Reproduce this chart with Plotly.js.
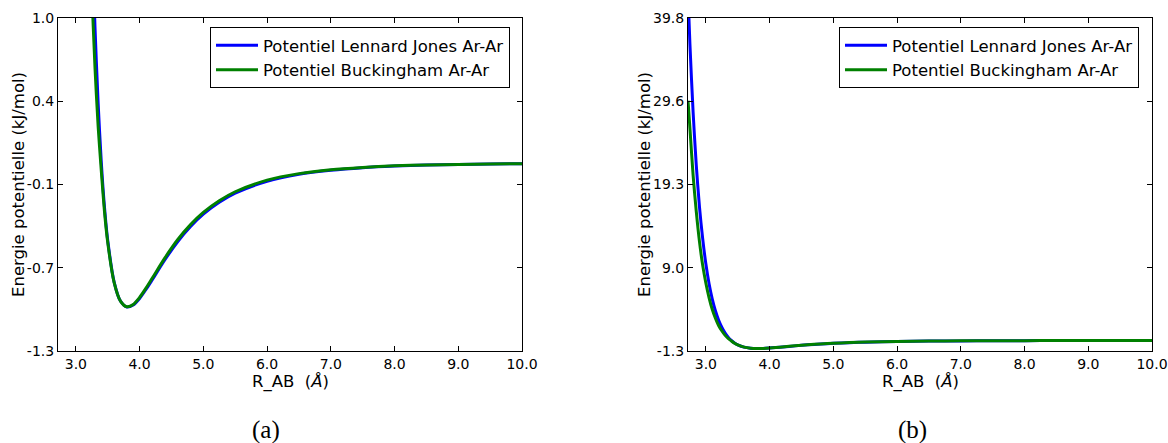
<!DOCTYPE html>
<html>
<head>
<meta charset="utf-8">
<script src="https://cdn.plot.ly/plotly-3.0.1.min.js"></script>
<style>html,body{margin:0;padding:0;background:#fff;}#chart{width:1168px;height:443px;}</style>
</head>
<body>
<div id="chart"></div>
<script>
// Distance R_AB (Å)
const rAB = [2.72, 2.75, 2.8, 2.85, 2.9, 2.95, 3.0, 3.05, 3.1, 3.15, 3.2, 3.25, 3.3, 3.35, 3.4, 3.45, 3.5, 3.6, 3.7, 3.8, 3.9, 4.0, 4.1, 4.2, 4.4, 4.6, 4.8, 5.0, 5.25, 5.5, 6.0, 6.5, 7.0, 7.5, 8.0, 8.5, 9.0, 9.5, 10.0];
// Lennard-Jones Ar-Ar (kJ/mol)
const ljValues = [42.8, 36.6, 28.2, 21.6, 16.5, 12.6, 9.46, 7.03, 5.14, 3.67, 2.52, 1.63, 0.94, 0.41, 0.0, -0.31, -0.535, -0.822, -0.955, -0.996, -0.982, -0.937, -0.875, -0.807, -0.668, -0.544, -0.440, -0.355, -0.273, -0.210, -0.128, -0.080, -0.052, -0.034, -0.023, -0.016, -0.012, -0.008, -0.006];
// Buckingham Ar-Ar (kJ/mol)
const buckValues = [29.6, 26.2, 20.4, 15.9, 12.2, 9.3, 7.1, 5.3, 3.85, 2.75, 1.85, 1.2, 0.66, 0.25, -0.06, -0.34, -0.55, -0.826, -0.955, -0.994, -0.978, -0.930, -0.866, -0.796, -0.655, -0.530, -0.427, -0.343, -0.262, -0.200, -0.120, -0.075, -0.048, -0.032, -0.021, -0.015, -0.011, -0.008, -0.006];

const seriesNames = ["Potentiel Lennard Jones Ar-Ar", "Potentiel Buckingham Ar-Ar"];
const xTickVals = [3, 4, 5, 6, 7, 8, 9, 10];
const xTickText = ["3.0", "4.0", "5.0", "6.0", "7.0", "8.0", "9.0", "10.0"];
const yRangeA = [-1.3, 1.0];
const yTickValsA = [-1.3, -0.725, -0.15, 0.425, 1.0];
const yTickTextA = ["-1.3", "-0.7", "-0.1", "0.4", "1.0"];
const yRangeB = [-1.3, 39.8];
const yTickValsB = [-1.3, 8.975, 19.25, 29.525, 39.8];
const yTickTextB = ["-1.3", "9.0", "19.3", "29.6", "39.8"];
const xTitle = "R_AB&nbsp; (<i>Å</i>)";
const yTitle = "Energie potentielle (kJ/mol)";
const panelLabels = ["(a)", "(b)"];

const W = 1168, H = 443;
const px = v => v / W;
const py = v => 1 - v / H;

const colors = ["#0000ff", "#008000"];
const traces = [];
[["x", "y", "legend"], ["x2", "y2", "legend2"]].forEach(([xa, ya, lg]) => {
  [ljValues, buckValues].forEach((vals, i) => {
    traces.push({
      type: "scatter", mode: "lines", x: rAB, y: vals,
      xaxis: xa, yaxis: ya, legend: lg, name: seriesNames[i],
      line: {color: colors[i], width: 3, shape: "spline", smoothing: 0.8},
      hoverinfo: "skip"
    });
  });
});

const tickFont = {family: "DejaVu Sans", size: 14, color: "#000"};
function xax(anchor, dom) {
  return {domain: dom, anchor: anchor, range: [2.72, 10], tickvals: xTickVals, ticktext: xTickText,
    ticks: "inside", ticklen: 5, tickwidth: 1, tickcolor: "#000", mirror: "ticks",
    showline: true, linecolor: "#000", linewidth: 1, showgrid: false, zeroline: false,
    tickfont: tickFont, automargin: false, fixedrange: true, ticklabeloverflow: "allow"};
}
function yax(anchor, range, tv, tt) {
  return {domain: [py(351), py(18)], anchor: anchor, range: range, tickvals: tv, ticktext: tt,
    ticks: "inside", ticklen: 5, tickwidth: 1, tickcolor: "#000", mirror: "ticks",
    showline: true, linecolor: "#000", linewidth: 1, showgrid: false, zeroline: false,
    tickfont: tickFont, automargin: false, fixedrange: true, ticklabelstandoff: 0, ticklabeloverflow: "allow"};
}
const legendBase = {bgcolor: "#fff", bordercolor: "#000", borderwidth: 1, itemwidth: 42,
  font: {family: "DejaVu Sans", size: 16.5, color: "#000"}, xanchor: "left", yanchor: "top", tracegroupgap: 0};

const titleFont = {family: "DejaVu Sans", size: 16.5, color: "#000"};
const layout = {
  width: W, height: H, margin: {l: 0, r: 0, t: 0, b: 0},
  paper_bgcolor: "#fff", plot_bgcolor: "#fff", showlegend: true,
  xaxis: xax("y", [px(58), px(522)]),
  yaxis: yax("x", yRangeA, yTickValsA, yTickTextA),
  xaxis2: xax("y2", [px(688), px(1152)]),
  yaxis2: yax("x2", yRangeB, yTickValsB, yTickTextB),
  legend: Object.assign({x: px(210), y: py(27)}, legendBase),
  legend2: Object.assign({x: px(839), y: py(27)}, legendBase),
  annotations: [
    {text: xTitle, x: px(290), y: py(382), xref: "paper", yref: "paper", showarrow: false, font: titleFont, xanchor: "center", yanchor: "middle"},
    {text: xTitle, x: px(920), y: py(382), xref: "paper", yref: "paper", showarrow: false, font: titleFont, xanchor: "center", yanchor: "middle"},
    {text: yTitle, x: px(18), y: py(185), xref: "paper", yref: "paper", showarrow: false, font: titleFont, textangle: -90, xanchor: "center", yanchor: "middle"},
    {text: yTitle, x: px(644), y: py(185), xref: "paper", yref: "paper", showarrow: false, font: titleFont, textangle: -90, xanchor: "center", yanchor: "middle"},
    {text: panelLabels[0], x: px(266), y: py(430), xref: "paper", yref: "paper", showarrow: false, font: {family: "Liberation Serif", size: 25, color: "#000"}, xanchor: "center", yanchor: "middle"},
    {text: panelLabels[1], x: px(912), y: py(430), xref: "paper", yref: "paper", showarrow: false, font: {family: "Liberation Serif", size: 25, color: "#000"}, xanchor: "center", yanchor: "middle"}
  ]
};
Plotly.newPlot("chart", traces, layout, {staticPlot: true, displayModeBar: false});
</script>
</body>
</html>
